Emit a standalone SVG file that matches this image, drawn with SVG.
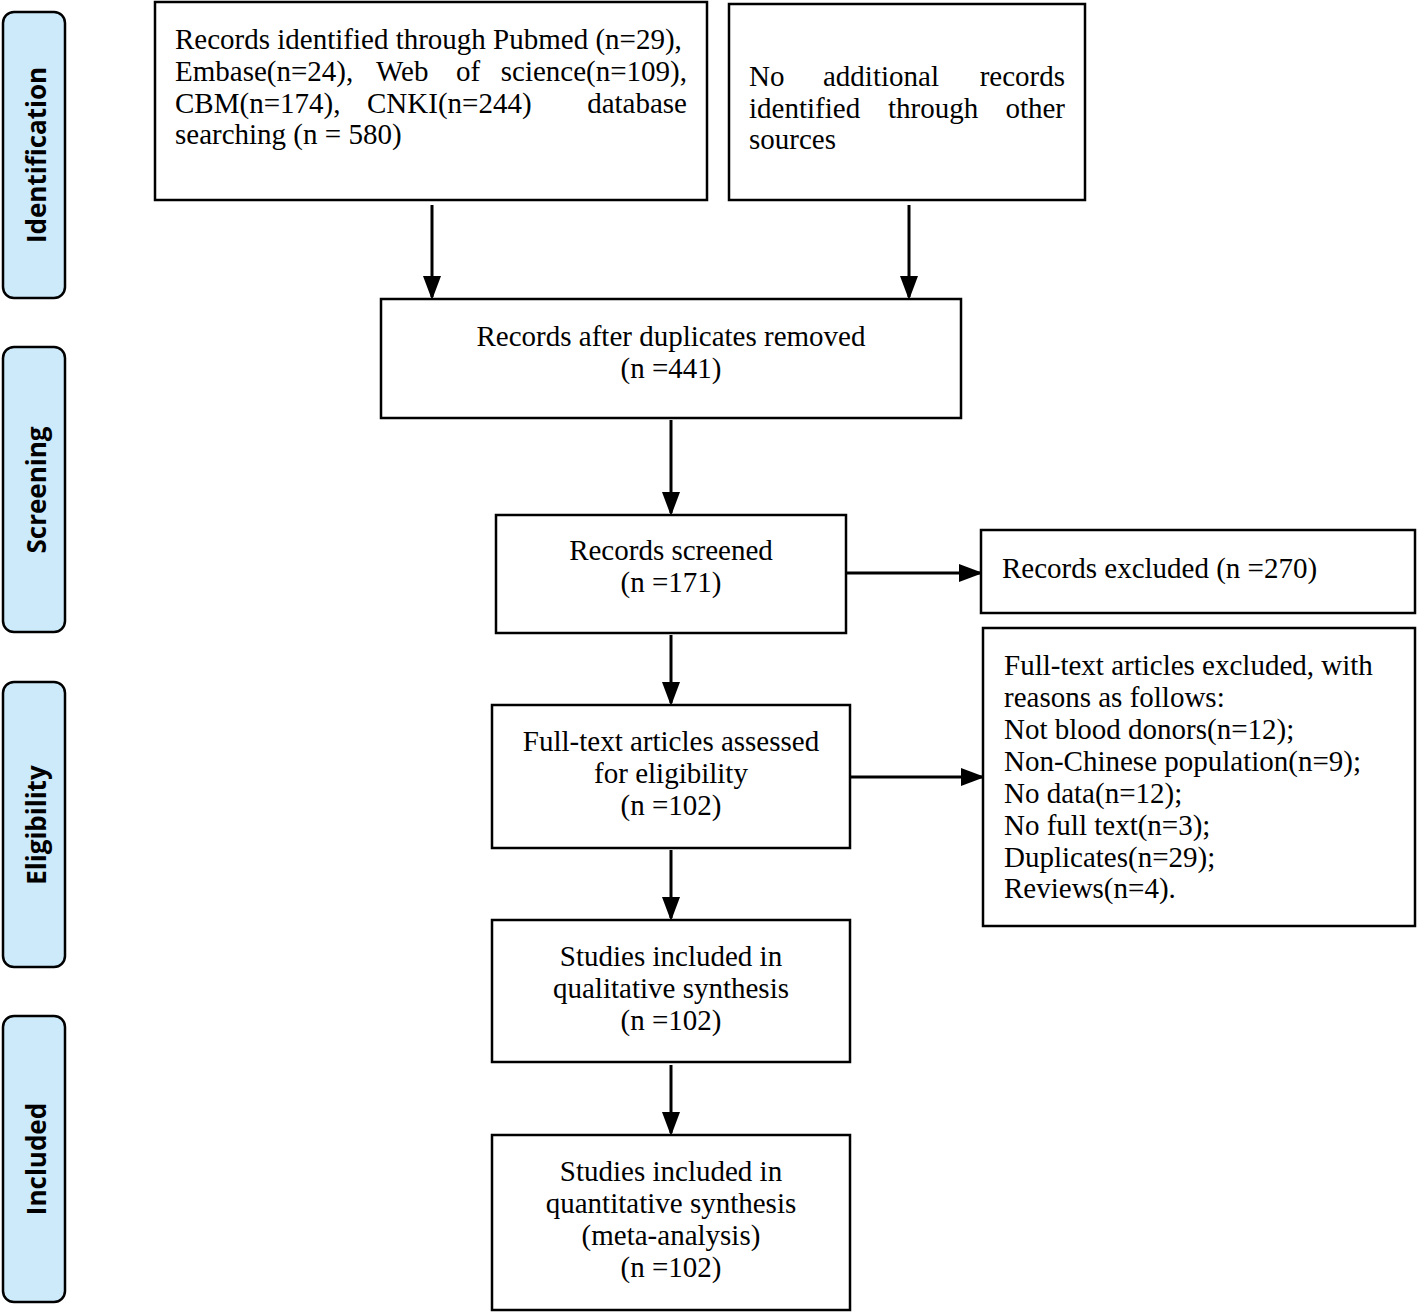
<svg xmlns="http://www.w3.org/2000/svg" width="1418" height="1313" viewBox="0 0 1418 1313">
<style>
.box{fill:#fff;stroke:#000;stroke-width:2.5}
.side{fill:#cdeafb;stroke:#000;stroke-width:2.5}
.t{font-family:"Liberation Serif","Times New Roman",serif;font-size:29px;fill:#000}
.c{text-anchor:middle}
.e{text-anchor:end}
.s{font-family:"Open Sans","Liberation Sans",sans-serif;font-size:26px;font-weight:bold;fill:#000;text-anchor:middle}
.a{stroke:#000;stroke-width:3;fill:none;marker-end:url(#ah)}
</style>
<defs>
<marker id="ah" markerWidth="8" markerHeight="6" refX="7" refY="3" orient="auto" markerUnits="strokeWidth">
<path d="M0,0 L8,3 L0,6 Z" fill="#000"/>
</marker>
</defs>
<rect width="1418" height="1313" fill="#fff"/>
<g id="stage-identification"><rect class="side" x="3" y="12" width="62" height="286" rx="11"/><text class="s" transform="translate(46,155) rotate(-90)">Identification</text></g>
<g id="stage-screening"><rect class="side" x="3" y="347" width="62" height="285" rx="11"/><text class="s" transform="translate(46,490) rotate(-90)">Screening</text></g>
<g id="stage-eligibility"><rect class="side" x="3" y="682" width="62" height="285" rx="11"/><text class="s" transform="translate(46,825) rotate(-90)">Eligibility</text></g>
<g id="stage-included"><rect class="side" x="3" y="1016" width="62" height="286" rx="11"/><text class="s" transform="translate(46,1159) rotate(-90)">Included</text></g>

<g id="connectors">
<line class="a" x1="432" y1="205" x2="432" y2="297"/>
<line class="a" x1="909" y1="205" x2="909" y2="297"/>
<line class="a" x1="671" y1="420" x2="671" y2="513"/>
<line class="a" x1="846" y1="573" x2="980" y2="573"/>
<line class="a" x1="671" y1="635" x2="671" y2="703"/>
<line class="a" x1="850" y1="777" x2="982" y2="777"/>
<line class="a" x1="671" y1="850" x2="671" y2="918"/>
<line class="a" x1="671" y1="1065" x2="671" y2="1133"/>
</g>

<g id="n-identified"><rect class="box" x="155" y="2" width="552" height="198"/>
<text class="t" x="175" y="49">Records identified through Pubmed (n=29),</text>
<text class="t" x="175" y="81">Embase(n=24),</text><text class="t" x="376" y="81">Web</text><text class="t" x="456" y="81">of</text><text class="t e" x="687" y="81">science(n=109),</text>
<text class="t" x="175" y="113">CBM(n=174),</text><text class="t" x="367" y="113">CNKI(n=244)</text><text class="t e" x="687" y="113">database</text>
<text class="t" x="175" y="144">searching (n = 580)</text>
</g>
<g id="n-other"><rect class="box" x="729" y="4" width="356" height="196"/>
<text class="t" x="749" y="86">No</text><text class="t" x="823" y="86">additional</text><text class="t e" x="1065" y="86">records</text>
<text class="t" x="749" y="118">identified</text><text class="t" x="888" y="118">through</text><text class="t e" x="1065" y="118">other</text>
<text class="t" x="749" y="149">sources</text>
</g>
<g id="n-dedup"><rect class="box" x="381" y="299" width="580" height="119"/>
<text class="t c" x="671" y="346">Records after duplicates removed</text>
<text class="t c" x="671" y="378">(n =441)</text>
</g>
<g id="n-screened"><rect class="box" x="496" y="515" width="350" height="118"/>
<text class="t c" x="671" y="560">Records screened</text>
<text class="t c" x="671" y="592">(n =171)</text>
</g>
<g id="n-excluded"><rect class="box" x="981" y="530" width="434" height="83"/>
<text class="t" x="1002" y="578">Records excluded (n =270)</text>
</g>
<g id="n-fulltext"><rect class="box" x="492" y="705" width="358" height="143"/>
<text class="t c" x="671" y="751">Full-text articles assessed</text>
<text class="t c" x="671" y="783">for eligibility</text>
<text class="t c" x="671" y="815">(n =102)</text>
</g>
<g id="n-ft-excluded"><rect class="box" x="983" y="628" width="432" height="298"/>
<text class="t" x="1004" y="675">Full-text articles excluded, with</text>
<text class="t" x="1004" y="707">reasons as follows:</text>
<text class="t" x="1004" y="739">Not blood donors(n=12);</text>
<text class="t" x="1004" y="771">Non-Chinese population(n=9);</text>
<text class="t" x="1004" y="803">No data(n=12);</text>
<text class="t" x="1004" y="835">No full text(n=3);</text>
<text class="t" x="1004" y="867">Duplicates(n=29);</text>
<text class="t" x="1004" y="898">Reviews(n=4).</text>
</g>
<g id="n-qualitative"><rect class="box" x="492" y="920" width="358" height="142"/>
<text class="t c" x="671" y="966">Studies included in</text>
<text class="t c" x="671" y="998">qualitative synthesis</text>
<text class="t c" x="671" y="1030">(n =102)</text>
</g>
<g id="n-quantitative"><rect class="box" x="492" y="1135" width="358" height="175"/>
<text class="t c" x="671" y="1181">Studies included in</text>
<text class="t c" x="671" y="1213">quantitative synthesis</text>
<text class="t c" x="671" y="1245">(meta-analysis)</text>
<text class="t c" x="671" y="1277">(n =102)</text>
</g>
</svg>
